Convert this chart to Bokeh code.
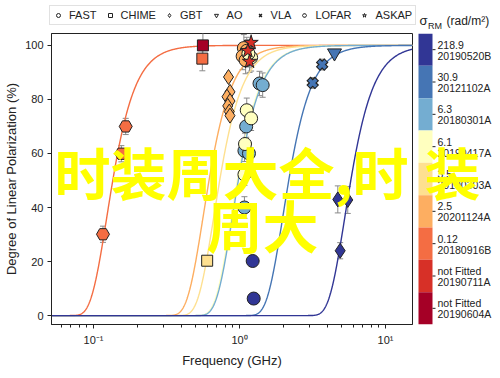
import numpy as np
from bokeh.plotting import figure
from bokeh.layouts import column, row
from bokeh.models import (Range1d, FixedTicker, Legend, LegendItem, Label, Whisker,
                          ColumnDataSource, TeeHead, BasicTickFormatter)
from bokeh.core.properties import value
from bokeh.embed import file_html
from bokeh.resources import INLINE

FONT = "Liberation Sans"
TXT = "#222222"

# ---- colour bands (top to bottom of colour bar) ----
band_sigma_labels = ["218.9", "30.9", "6.3", "6.1", "3.5", "2.5", "0.12", "not Fitted", "not Fitted"]
band_names = ["20190520B", "20121102A", "20180301A", "20190417A", "20190303A",
              "20201124A", "20180916B", "20190711A", "20190604A"]
band_colors = ["#313695", "#4575b4", "#74add1", "#ffffbf", "#fee090",
               "#fdae61", "#f46d43", "#d73027", "#a50026"]
fit_sigma = [218.9, 30.9, 6.3, 6.1, 3.5, 2.5, 0.12]   # sigma_RM of fitted bands 0..6

# ---- data (frequency GHz, linear pol %, error %, band index) ----
fast_freq = [1.07, 1.12, 1.05, 1.10, 1.20, 1.15, 1.37, 1.44, 1.11, 1.08, 1.16, 1.08,
             1.12, 1.20, 1.09, 1.08, 1.23, 1.25]
fast_lin = [99.0, 98.0, 96.0, 94.5, 95.5, 97.0, 85.9, 85.3, 70.0, 61.0, 60.0, 40.0,
            76.0, 73.0, 63.5, 52.2, 20.2, 6.3]
fast_err = [5, 5, 5, 5, 5, 5, 4.5, 4.5, 4, 4, 4, 4, 4.5, 4.5, 4, 4, 0, 0]
fast_band = [5, 5, 5, 5, 3, 3, 2, 2, 2, 2, 2, 2, 3, 3, 3, 3, 0, 0]

chime_freq = [0.561, 0.556, 0.600]
chime_lin = [100.0, 95.1, 20.3]
chime_err = [6, 4.5, 0]
chime_band = [8, 6, 4]

gbt_freq = [0.84, 0.86, 0.82, 0.86, 0.83, 0.85, 0.86, 4.71, 5.51, 4.89]
gbt_lin = [88.3, 82.8, 81.0, 79.4, 77.6, 75.5, 74.0, 43.0, 42.8, 24.0]
gbt_err = [1, 1, 1, 1, 1, 1, 1, 5, 5, 3]
gbt_band = [5, 5, 5, 5, 5, 5, 5, 0, 0, 0]

ao_freq = [4.47]
ao_lin = [97.2]
ao_err = [1]
ao_band = [1]

vla_freq = [3.68, 3.17]
vla_lin = [92.9, 86.1]
vla_err = [2, 2]
vla_band = [1, 1]

lofar_freq = [0.166, 0.155, 0.116]
lofar_lin = [70.0, 59.9, 30.1]
lofar_err = [3, 3, 3]
lofar_band = [6, 6, 6]

askap_freq = [1.20, 1.14, 1.17]
askap_lin = [101.0, 98.0, 94.0]
askap_err = [4, 4, 4]
askap_band = [7, 7, 7]

tel_names = ["FAST", "CHIME", "GBT", "AO", "VLA", "LOFAR", "ASKAP"]
tel_markers = ["circle", "square", "diamond", "inverted_triangle", "x", "hex", "star"]

y_ticks = [0, 20, 40, 60, 80, 100]
x_major = [0.1, 1, 10]
x_major_labels = ["10⁻¹", "10⁰", "10¹"]
x_minor = [0.06, 0.07, 0.08, 0.09, 0.2, 0.3, 0.4, 0.5, 0.6, 0.7, 0.8, 0.9,
           2, 3, 4, 5, 6, 7, 8, 9]

# overlaid watermark text, split so each piece fits inside one panel
WM1a = "时装周大全,时"
WM1b = "装"
WM2 = "周大"
WM_FONT = "Noto Sans CJK SC"
WM_SIZE = "56px"

# ================= main plot =================
p = figure(width=414, height=338, x_axis_type="log", title=None,
           x_range=Range1d(0.0515, 15.3), y_range=Range1d(-3.3, 104.4),
           output_backend="svg", toolbar_location=None,
           min_border_left=51, min_border_right=2, min_border_top=1, min_border_bottom=44)
p.xgrid.visible = False
p.ygrid.visible = False
p.outline_line_color = TXT
p.background_fill_color = "white"

# fitted Burn-law depolarisation curves
nu = np.logspace(np.log10(0.0515), np.log10(15.3), 800)
lam = 0.299792458 / nu
for bi in [6, 5, 4, 3, 2, 1, 0]:
    s = fit_sigma[bi]
    p.line(nu, 100.0 * np.exp(-2.0 * s ** 2 * lam ** 4), line_color=band_colors[bi], line_width=1.4)

# error bars
all_f, all_l, all_e = [], [], []
for f, l, e in [(fast_freq, fast_lin, fast_err), (chime_freq, chime_lin, chime_err),
                (gbt_freq, gbt_lin, gbt_err), (ao_freq, ao_lin, ao_err),
                (vla_freq, vla_lin, vla_err), (lofar_freq, lofar_lin, lofar_err),
                (askap_freq, askap_lin, askap_err)]:
    for a, b, c in zip(f, l, e):
        if c > 0:
            all_f.append(a); all_l.append(b); all_e.append(c)
esrc = ColumnDataSource(dict(x=all_f, upper=[b + c for b, c in zip(all_l, all_e)],
                             lower=[b - c for b, c in zip(all_l, all_e)]))
wh = Whisker(source=esrc, base="x", upper="upper", lower="lower", dimension="height",
             line_color="#8a8a8a", line_width=1, level="underlay",
             upper_head=TeeHead(size=6, line_color="#8a8a8a", line_width=1),
             lower_head=TeeHead(size=6, line_color="#8a8a8a", line_width=1))
p.add_layout(wh)


def src(f, l, b):
    return ColumnDataSource(dict(x=f, y=l, c=[band_colors[i] for i in b]))


OUT = "#222222"
p.scatter("x", "y", source=src(gbt_freq, gbt_lin, gbt_band), marker="diamond", size=15,
          fill_color="c", line_color=OUT, line_width=1)
p.scatter("x", "y", source=src(chime_freq, chime_lin, chime_band), marker="square", size=11,
          fill_color="c", line_color=OUT, line_width=1)
p.scatter("x", "y", source=src(lofar_freq, lofar_lin, lofar_band), marker="hex", size=13,
          fill_color="c", line_color=OUT, line_width=1)
p.scatter("x", "y", source=src(fast_freq, fast_lin, fast_band), marker="circle", size=13,
          fill_color="c", line_color=OUT, line_width=1)
p.scatter("x", "y", source=src(ao_freq, ao_lin, ao_band), marker="inverted_triangle", size=14,
          fill_color="c", line_color=OUT, line_width=1)
vsrc = src(vla_freq, vla_lin, vla_band)
p.scatter("x", "y", source=vsrc, marker="x", size=12, line_color=OUT, line_width=6)
p.scatter("x", "y", source=vsrc, marker="x", size=10, line_color="c", line_width=3.6)
p.scatter("x", "y", source=src(askap_freq, askap_lin, askap_band), marker="star", size=15,
          fill_color="c", line_color=OUT, line_width=1)

for ax in (p.xaxis[0], p.yaxis[0]):
    ax.axis_line_color = TXT
    ax.major_tick_line_color = TXT
    ax.minor_tick_line_color = TXT
    ax.major_tick_in = 0
    ax.major_tick_out = 4
    ax.minor_tick_in = 0
    ax.major_label_text_font = FONT
    ax.major_label_text_font_size = "11px"
    ax.major_label_text_color = TXT
    ax.axis_label_text_font = FONT
    ax.axis_label_text_font_size = "13px"
    ax.axis_label_text_font_style = "normal"
    ax.axis_label_text_color = TXT

p.xaxis.ticker = FixedTicker(ticks=x_major, minor_ticks=x_minor)
p.xaxis.formatter = BasicTickFormatter()
p.xaxis.major_label_overrides = {t: s for t, s in zip(x_major, x_major_labels)}
p.xaxis.minor_tick_out = 3
p.xaxis.axis_label = "Frequency (GHz)"
p.xaxis.axis_label_standoff = 4
p.xaxis.major_label_standoff = 5

p.yaxis.ticker = FixedTicker(ticks=y_ticks)
p.yaxis.minor_tick_out = 0
p.yaxis.axis_label = "Degree of Linear Polarization (%)"
p.yaxis.axis_label_standoff = 3
p.yaxis.major_label_standoff = 4

# watermark pieces inside the main frame
p.add_layout(Label(x=180, y=154, x_units="screen", y_units="screen", text=WM1a,
                   text_font=WM_FONT, text_font_size=WM_SIZE, text_font_style="bold",
                   text_color="#ffff00", text_align="center", text_baseline="middle", level="overlay"))
p.add_layout(Label(x=211, y=101, x_units="screen", y_units="screen", text=WM2,
                   text_font=WM_FONT, text_font_size=WM_SIZE, text_font_style="bold",
                   text_color="#ffff00", text_align="center", text_baseline="middle", level="overlay"))

# ================= colour bar panel (frame aligned with main frame) =================
band_top = [9 - i for i in range(9)]
band_bot = [8 - i for i in range(9)]
band_mid = [8.5 - i for i in range(9)]
cbf = figure(width=78, height=338, x_range=Range1d(0, 78), y_range=Range1d(0, 9),
             output_backend="svg", toolbar_location=None, title=None,
             x_axis_location=None, y_axis_location=None, min_border=0)
cbf.xgrid.visible = False
cbf.ygrid.visible = False
cbf.outline_line_color = None
cbsrc = ColumnDataSource(dict(top=band_top, bottom=band_bot, mid=band_mid, c=band_colors,
                              s=band_sigma_labels, n=band_names))
cbf.quad(left=4, right=18, top="top", bottom="bottom", fill_color="c", line_color=None, source=cbsrc)
cbf.segment(x0=18, x1=21, y0="mid", y1="mid", line_color=TXT, line_width=1, source=cbsrc)
cbf.text(x=23, y="mid", text="s", source=cbsrc, text_font=value(FONT), text_font_size=value("10.5px"),
         text_baseline="middle", text_color=TXT, y_offset=-5)
cbf.text(x=23, y="mid", text="n", source=cbsrc, text_font=value(FONT), text_font_size=value("10.5px"),
         text_baseline="middle", text_color=TXT, y_offset=6)
cbf.add_layout(Label(x=38, y=154, x_units="screen", y_units="screen", text=WM1b,
                     text_font=WM_FONT, text_font_size=WM_SIZE, text_font_style="bold",
                     text_color="#ffff00", text_align="center", text_baseline="middle", level="overlay"))

# ================= header: legend + colour-bar title =================
hd = figure(width=492, height=32, x_range=Range1d(0, 492), y_range=Range1d(0, 32),
            output_backend="svg", toolbar_location=None, title=None,
            x_axis_location=None, y_axis_location=None, min_border=0)
hd.xgrid.visible = False
hd.ygrid.visible = False
hd.outline_line_color = None
items = []
for name, mk in zip(tel_names, tel_markers):
    if mk == "x":
        r = hd.scatter(x=[-100], y=[-100], marker=mk, size=8, line_color=TXT, line_width=1.5)
    else:
        r = hd.scatter(x=[-100], y=[-100], marker=mk, size=10, fill_color="white",
                       line_color=TXT, line_width=1)
    items.append(LegendItem(label=name, renderers=[r]))
legend = Legend(items=items, orientation="horizontal", location=(49, 7),
                label_text_font=FONT, label_text_font_size="11px", label_text_color=TXT,
                glyph_width=10, glyph_height=10, label_standoff=6, spacing=8, padding=3,
                margin=0, border_line_color="#c4c4c4", label_height=11)
hd.add_layout(legend)
hd.text(x=[419], y=[12], text=["σ"], text_font=value(FONT), text_font_size=value("13px"),
        text_baseline="middle", text_color=TXT)
hd.text(x=[427.5], y=[7], text=["RM"], text_font=value(FONT), text_font_size=value("9px"),
        text_baseline="middle", text_color=TXT)
hd.text(x=[446], y=[12], text=["(rad/m²)"], text_font=value(FONT), text_font_size=value("12px"),
        text_baseline="middle", text_color=TXT)

layout = column(hd, row(p, cbf, spacing=0), spacing=0)
open("out.html", "w").write(file_html(layout, INLINE))
